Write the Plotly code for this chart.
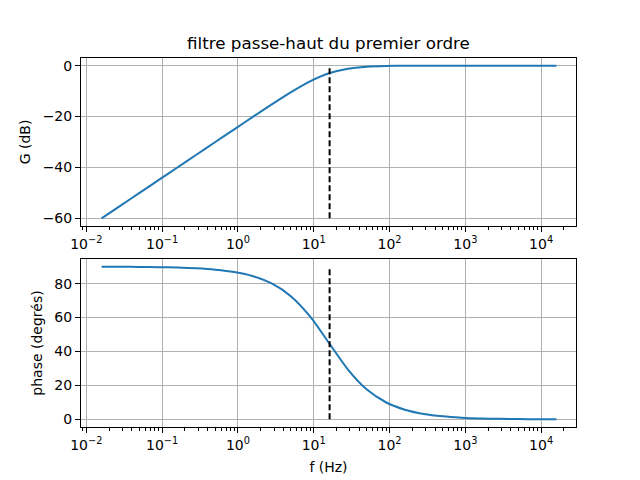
import plotly.graph_objects as go
from plotly.subplots import make_subplots

# Data (first-order high-pass filter Bode plot)
freq_hz = [0.0159, 0.0283, 0.0503, 0.0894, 0.159, 0.283, 0.503, 0.894, 1.59, 2.83,
           5.03, 8.94, 15.9, 28.3, 50.3, 89.4, 159, 283, 503, 894, 1590, 2830,
           5030, 8940, 15900]
gain_db = [-60.0, -55.0, -50.0, -45.0, -40.0, -35.0, -30.0, -25.01, -20.04, -15.14,
           -10.41, -6.19, -3.01, -1.19, -0.41, -0.135, -0.043, -0.014, -0.004, -0.001,
           0.0, 0.0, 0.0, 0.0, 0.0]
phase_deg = [89.94, 89.90, 89.82, 89.68, 89.43, 88.98, 88.19, 86.78, 84.29, 79.92,
             72.45, 60.64, 45.0, 29.36, 17.55, 10.08, 5.71, 3.22, 1.81, 1.02,
             0.57, 0.32, 0.18, 0.10, 0.06]
cutoff_hz = 16.2
gain_marker = [-60, 0]
phase_marker = [0, 90]

xtick_vals = [1e-2, 1e-1, 1e0, 1e1, 1e2, 1e3, 1e4]
xtick_text = ["10<sup>−2</sup>", "10<sup>−1</sup>", "10<sup>0</sup>", "10<sup>1</sup>",
              "10<sup>2</sup>", "10<sup>3</sup>", "10<sup>4</sup>"]
gain_ticks = [-60, -40, -20, 0]
gain_ticktext = ["−60", "−40", "−20", "0"]
phase_ticks = [0, 20, 40, 60, 80]

minor_vals = [m * d for d in [1e-3, 1e-2, 1e-1, 1e0, 1e1, 1e2, 1e3, 1e4] for m in range(2, 10)]

blue = "#1f77b4"
grid = "#b0b0b0"
font = "DejaVu Sans"

# The page body has an 8px default margin; size the figure to compensate.
W, H = 632, 472

fig = make_subplots(rows=2, cols=1)

fig.add_trace(go.Scatter(x=freq_hz, y=gain_db, mode="lines",
                         line=dict(color=blue, width=2, shape="spline", smoothing=0.8)),
              row=1, col=1)
fig.add_trace(go.Scatter(x=[cutoff_hz, cutoff_hz], y=gain_marker, mode="lines",
                         line=dict(color="black", width=2, dash="6px,3px")),
              row=1, col=1)
fig.add_trace(go.Scatter(x=freq_hz, y=phase_deg, mode="lines",
                         line=dict(color=blue, width=2, shape="spline", smoothing=0.8)),
              row=2, col=1)
fig.add_trace(go.Scatter(x=[cutoff_hz, cutoff_hz], y=phase_marker, mode="lines",
                         line=dict(color="black", width=2, dash="6px,3px")),
              row=2, col=1)

xcommon = dict(type="log", range=[-2.07, 4.46], tickvals=xtick_vals, ticktext=xtick_text,
               showgrid=True, gridcolor=grid, gridwidth=1, zeroline=False,
               showline=True, linecolor="black", linewidth=1, mirror=True,
               ticks="outside", ticklen=5, tickcolor="black", automargin=False,
               minor=dict(tickvals=minor_vals, ticks="outside", ticklen=3,
                          tickcolor="black", showgrid=False),
               tickfont=dict(family=font, size=14, color="black"))
ycommon = dict(showgrid=True, gridcolor=grid, gridwidth=1, zeroline=False,
               showline=True, linecolor="black", linewidth=1, mirror=True,
               ticks="outside", ticklen=5, tickcolor="black", automargin=False,
               tickfont=dict(family=font, size=14, color="black"))

fig.update_xaxes(**xcommon)
fig.update_xaxes(row=2, col=1, title=dict(text="f (Hz)", font=dict(family=font, size=14, color="black"), standoff=10))
fig.update_yaxes(**ycommon)
fig.update_yaxes(row=1, col=1, range=[-63, 3], tickvals=gain_ticks, ticktext=gain_ticktext,
                 domain=[0.5447, 1.0],
                 title=dict(text="G (dB)", font=dict(family=font, size=14, color="black"), standoff=8))
fig.update_yaxes(row=2, col=1, range=[-4.5, 94.5], tickvals=phase_ticks,
                 domain=[0.0, 0.4553],
                 title=dict(text="phase (degrés)", font=dict(family=font, size=14, color="black"), standoff=8))

fig.update_layout(
    width=W, height=H,
    margin=dict(l=73, r=64, t=50, b=53),
    plot_bgcolor="white", paper_bgcolor="white",
    showlegend=False,
    font=dict(family=font, size=14, color="black"),
    title=dict(text="filtre passe-haut du premier ordre", x=0.5, xref="paper",
               y=1 - 35 / H, yref="container", yanchor="middle", xanchor="center",
               font=dict(family=font, size=16.7, color="black")),
)

fig.write_html("out.html")
